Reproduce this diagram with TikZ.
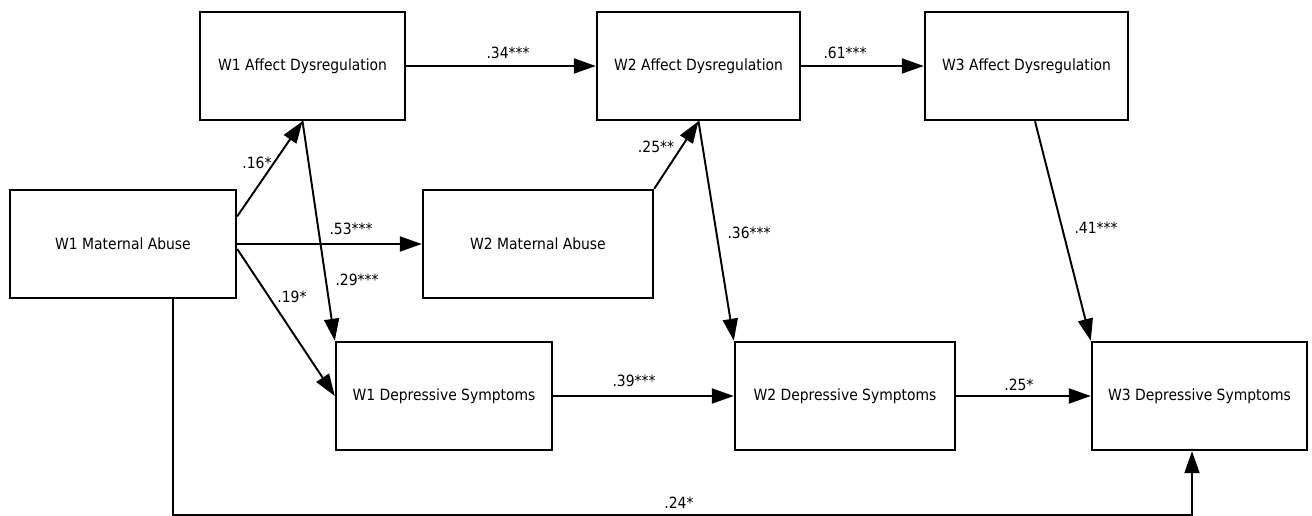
\documentclass[tikz,border=0pt]{standalone}
\usepackage{fontspec}
\setmainfont{DejaVu Sans Condensed}
\usetikzlibrary{arrows.meta,calc}

\tikzset{
  varbox/.style={draw, line width=1.4pt, minimum height=2.16cm, align=center, font=\fontsize{8.8}{10}\selectfont},
  link/.style={line width=1.1pt, -{Triangle[length=0.44cm,width=0.3cm]}},
  coef/.style={font=\fontsize{8.8}{10}\selectfont, inner sep=1pt}
}

\begin{document}
\begin{tikzpicture}[x=0.02cm,y=-0.02cm]
            \useasboundingbox (0,0) rectangle (1312,516);
            % variables
            \node[varbox,minimum width=4.1cm] (ad1) at (302.5,66) {W1 Affect Dysregulation};
            \node[varbox,minimum width=4.06cm] (ad2) at (698.5,66) {W2 Affect Dysregulation};
            \node[varbox,minimum width=4.06cm] (ad3) at (1026.5,66) {W3 Affect Dysregulation};
            \node[varbox,minimum width=4.52cm] (ma1) at (123,244) {W1 Maternal Abuse};
            \node[varbox,minimum width=4.6cm] (ma2) at (538,244) {W2 Maternal Abuse};
            \node[varbox,minimum width=4.32cm] (ds1) at (444,396) {W1 Depressive Symptoms};
            \node[varbox,minimum width=4.4cm] (ds2) at (845,396) {W2 Depressive Symptoms};
            \node[varbox,minimum width=4.3cm] (ds3) at (1199.5,396) {W3 Depressive Symptoms};
            % paths
            \draw[link] (ad1.east) to (ad2.west);
            \draw[link] (ad2.east) to (ad3.west);
            \draw[link] (ma1.east) to (ma2.west);
            \draw[link] ($(ma1.north east)!0.5!(ma1.east)$) to (ad1.south);
            \draw[link] ([yshift=-0.1cm]ma1.east) to (ds1.west);
            \draw[link] (ad1.south) to (ds1.north west);
            \draw[link] (ma2.north east) to (ad2.south);
            \draw[link] (ad2.south) to (ds2.north west);
            \draw[link] ([xshift=0.17cm]ad3.south) to (ds3.north west);
            \draw[link] (ds1.east) to (ds2.west);
            \draw[link] (ds2.east) to (ds3.west);
            \coordinate (ds3in) at ([xshift=-0.15cm]ds3.south);
            \draw[link] ([xshift=1cm]ma1.south) |- ($(ds3in)+(0,64)$) to (ds3in);
            % coefficients
            \node[coef] (c34) at (508,53) {.34***};
            \node[coef] (c61) at (845,53) {.61***};
            \node[coef] (c16) at (257,163) {.16*};
            \node[coef] (c53) at (351,229) {.53***};
            \node[coef] (c29) at (357,280) {.29***};
            \node[coef] (c19) at (292,297) {.19*};
            \node[coef] (c25a) at (656,147) {.25**};
            \node[coef] (c36) at (749,233) {.36***};
            \node[coef] (c41) at (1096,228) {.41***};
            \node[coef] (c39) at (634,381) {.39***};
            \node[coef] (c25b) at (1019,385) {.25*};
            \node[coef] (c24) at (679,503) {.24*};
        \end{tikzpicture}
\end{document}
